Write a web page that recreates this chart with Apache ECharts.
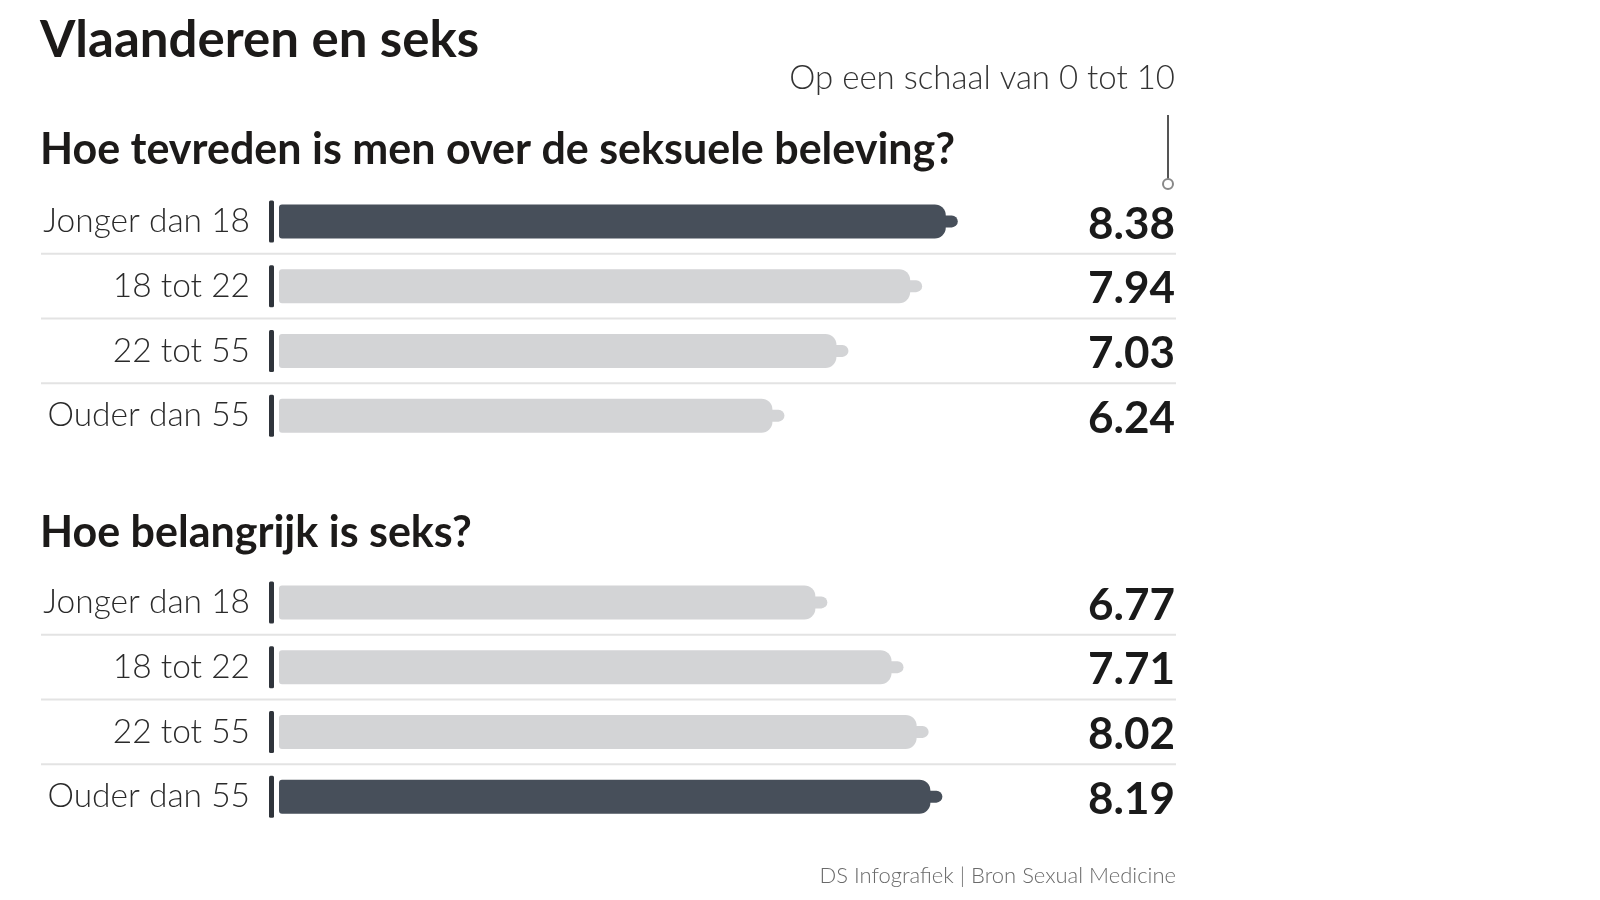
<!DOCTYPE html>
<html>
<head>
<meta charset="utf-8">
<script src="https://cdn.jsdelivr.net/npm/echarts@6/dist/echarts.min.js"></script>
<style>html,body{margin:0;padding:0;background:#fff}#c{width:1600px;height:900px}</style>
</head>
<body>
<div id="c"></div>
<script>
const categories = ['Jonger dan 18', '18 tot 22', '22 tot 55', 'Ouder dan 55'];
const satisfaction = [8.38, 7.94, 7.03, 6.24];
const importance = [6.77, 7.71, 8.02, 8.19];
const mainTitle = 'Vlaanderen en seks';
const scaleNote = 'Op een schaal van 0 tot 10';
const heading1 = 'Hoe tevreden is men over de seksuele beleving?';
const heading2 = 'Hoe belangrijk is seks?';
const source = 'DS Infografiek | Bron Sexual Medicine';

const FONT = 'Lato, "Noto Sans", sans-serif';
const DARK = '#474f5a';
const LIGHT = '#d3d4d6';

function makeRender(values) {
  const maxV = Math.max.apply(null, values);
  return function (params, api) {
    const v = api.value(0);
    const ci = api.value(1);
    const start = api.coord([0, ci]);
    const end = api.coord([v, ci]);
    const cy = start[1];
    const band = api.size([0, 1])[1];
    const cs = params.coordSys;
    const color = v === maxV ? DARK : LIGHT;
    const H = 34;
    const children = [
      {type: 'rect', shape: {x: start[0] - 10, y: cy - 21, width: 5, height: 42, r: 1.5},
       style: {fill: '#2f343b'}},
      {type: 'rect', shape: {x: end[0] - 18, y: cy - 6, width: 18, height: 12, r: 6},
       style: {fill: color}},
      {type: 'rect', shape: {x: start[0], y: cy - H / 2, width: end[0] - 12 - start[0], height: H, r: [3, 11, 11, 3]},
       style: {fill: color}},
      {type: 'text', style: {text: v.toFixed(2), x: cs.x + cs.width + 86, y: cy + 3,
        align: 'right', verticalAlign: 'middle', font: 'bold 44px ' + FONT, fill: '#1a1a1a'}}
    ];
    if (ci < categories.length - 1) {
      children.push({type: 'line', shape: {x1: cs.x - 238, y1: cy + band / 2, x2: cs.x + cs.width + 87, y2: cy + band / 2},
        style: {stroke: '#e3e3e3', lineWidth: 2}});
    }
    return {type: 'group', children: children};
  };
}

function gridAxis(idx) {
  return {
    x: {gridIndex: idx, type: 'value', min: 0, max: 10, show: false},
    y: {gridIndex: idx, type: 'category', data: categories, inverse: true,
        axisLine: {show: false}, axisTick: {show: false}, splitLine: {show: false},
        axisLabel: {margin: 29, fontSize: 33.5, fontWeight: 300, color: '#2a2a2a', fontFamily: FONT}}
  };
}
const a0 = gridAxis(0), a1 = gridAxis(1);

const chart = echarts.init(document.getElementById('c'), null, {renderer: 'canvas'});
chart.setOption({
  backgroundColor: '#ffffff',
  animation: false,
  title: [
    {text: mainTitle, left: 35, top: 10, textStyle: {fontSize: 51, fontWeight: 'bold', color: '#1c1a19', fontFamily: FONT}},
    {text: scaleNote, right: 420, top: 57, textStyle: {fontSize: 33, fontWeight: 300, color: '#333', fontFamily: FONT}},
    {text: heading1, left: 35, top: 124, textStyle: {fontSize: 43, fontWeight: 'bold', color: '#1c1a19', fontFamily: FONT}},
    {text: heading2, left: 35, top: 507, textStyle: {fontSize: 43, fontWeight: 'bold', color: '#1c1a19', fontFamily: FONT}},
    {text: source, right: 419, top: 860, textStyle: {fontSize: 22, fontWeight: 300, color: '#6a6a6a', fontFamily: FONT}}
  ],
  graphic: [
    {type: 'line', shape: {x1: 1168, y1: 115, x2: 1168, y2: 179}, style: {stroke: '#555', lineWidth: 2}},
    {type: 'circle', shape: {cx: 1168, cy: 184, r: 5}, style: {fill: '#fff', stroke: '#888', lineWidth: 2}}
  ],
  grid: [
    {left: 279, right: 511, top: 189, height: 259},
    {left: 279, right: 511, top: 570, height: 259}
  ],
  xAxis: [a0.x, a1.x],
  yAxis: [a0.y, a1.y],
  series: [
    {type: 'custom', xAxisIndex: 0, yAxisIndex: 0, clip: false, renderItem: makeRender(satisfaction),
     encode: {x: 0, y: 1}, data: satisfaction.map((v, i) => [v, i])},
    {type: 'custom', xAxisIndex: 1, yAxisIndex: 1, clip: false, renderItem: makeRender(importance),
     encode: {x: 0, y: 1}, data: importance.map((v, i) => [v, i])}
  ]
});
</script>
</body>
</html>
